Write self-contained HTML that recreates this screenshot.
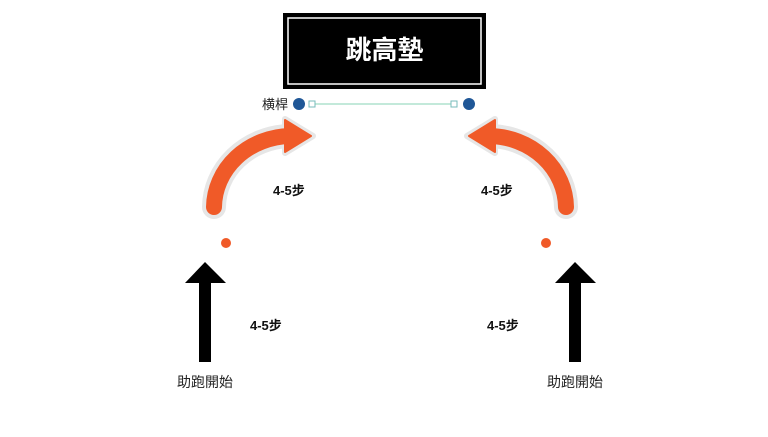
<!DOCTYPE html>
<html><head><meta charset="utf-8"><style>
body{margin:0;background:#fff;width:768px;height:432px;overflow:hidden;}
svg text{font-family:"Liberation Sans","Noto Sans CJK TC",sans-serif;}
</style></head><body>
<svg width="768" height="432" viewBox="0 0 768 432" xmlns="http://www.w3.org/2000/svg">
<rect x="283" y="13" width="203" height="76" fill="#000"/>
<rect x="288" y="18" width="193" height="66" fill="none" stroke="#fff" stroke-width="1.5"/>
<text x="384.5" y="59" font-size="26" font-weight="bold" fill="#fff" text-anchor="middle">跳高墊</text>
<line x1="312" y1="104" x2="454" y2="104" stroke="#9fdcc4" stroke-width="1.2"/>
<rect x="309" y="101" width="6" height="6" fill="#fff" stroke="#7bb" stroke-width="1"/>
<rect x="451" y="101" width="6" height="6" fill="#fff" stroke="#7bb" stroke-width="1"/>
<circle cx="299" cy="104" r="6" fill="#1f5797"/>
<circle cx="469" cy="104" r="6" fill="#1f5797"/>
<text x="275" y="109" font-size="13" fill="#222" text-anchor="middle">横桿</text>
<g stroke-linecap="round">
<path d="M214 207 A78 72 0 0 1 288 136" fill="none" stroke="#e6e6e6" stroke-width="24"/>
<path d="M566 207 A78 72 0 0 0 492 136" fill="none" stroke="#e6e6e6" stroke-width="24"/>
</g>
<polygon points="285,119 313,136 285,153" fill="#f05a28" stroke="#e6e6e6" stroke-width="6" stroke-linejoin="round"/>
<polygon points="495,119 467,136 495,153" fill="#f05a28" stroke="#e6e6e6" stroke-width="6" stroke-linejoin="round"/>
<g stroke-linecap="round">
<path d="M214 207 A78 72 0 0 1 290 136" fill="none" stroke="#f05a28" stroke-width="16"/>
<path d="M566 207 A78 72 0 0 0 490 136" fill="none" stroke="#f05a28" stroke-width="16"/>
</g>
<polygon points="285,120 311,136 285,152" fill="#f05a28" stroke="#f05a28" stroke-width="2" stroke-linejoin="round"/>
<polygon points="495,120 469,136 495,152" fill="#f05a28" stroke="#f05a28" stroke-width="2" stroke-linejoin="round"/>
<circle cx="226" cy="243" r="5" fill="#f05a28"/>
<circle cx="546" cy="243" r="5" fill="#f05a28"/>
<polygon points="205,262 226,283 211,283 211,362 199,362 199,283 185,283" fill="#000"/>
<polygon points="575,262 596,283 581,283 581,362 569,362 569,283 555,283" fill="#000"/>
<g font-size="13" font-weight="bold" fill="#111">
<text x="273" y="195">4-5步</text>
<text x="481" y="195">4-5步</text>
<text x="250" y="330">4-5步</text>
<text x="487" y="330">4-5步</text>
</g>
<text x="205" y="387" font-size="14" fill="#222" text-anchor="middle">助跑開始</text>
<text x="575" y="387" font-size="14" fill="#222" text-anchor="middle">助跑開始</text>
</svg>
</body></html>
